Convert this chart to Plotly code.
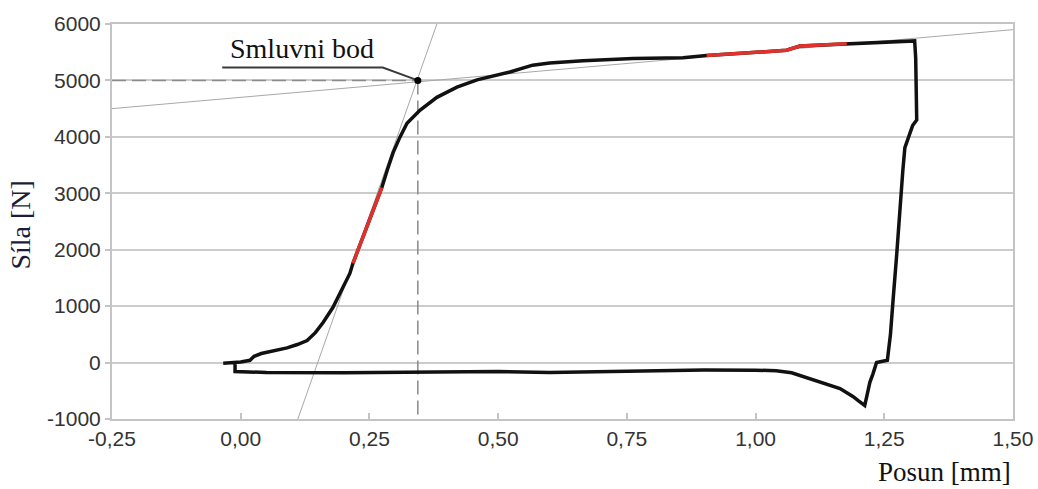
import plotly.graph_objects as go

# Force–displacement loop (loading, unloading, return)
posun = [
    -0.034, -0.011, 0.0, 0.018, 0.026, 0.04, 0.063, 0.09, 0.11, 0.129, 0.145, 0.16,
    0.179, 0.199, 0.212, 0.218,
    0.232, 0.246, 0.26, 0.274,
    0.285, 0.296, 0.309, 0.323, 0.348, 0.381, 0.42, 0.459, 0.523, 0.567, 0.60,
    0.665, 0.762, 0.859, 0.905,
    0.95, 0.989, 1.03, 1.06, 1.086, 1.13, 1.177,
    1.24, 1.305, 1.309, 1.311, 1.313, 1.313, 1.305, 1.30, 1.29, 1.286, 1.28, 1.274,
    1.267, 1.262, 1.256, 1.245, 1.235, 1.228, 1.222, 1.216, 1.212, 1.20, 1.189,
    1.164, 1.12, 1.07, 1.04, 1.0, 0.9, 0.8, 0.7, 0.6, 0.5, 0.35, 0.2, 0.05,
    -0.011, -0.011,
]
sila = [
    -10, 0, 10, 40, 110, 160, 210, 260, 320, 390, 530, 710,
    975, 1330, 1580, 1760,
    2100, 2450, 2780, 3100,
    3420, 3720, 3990, 4240, 4470, 4700, 4880, 5010, 5150, 5270, 5310,
    5350, 5390, 5400, 5440,
    5470, 5500, 5520, 5535, 5610, 5630, 5650,
    5680, 5710, 5700, 5400, 4800, 4300, 4200, 4060, 3810, 3400, 2600, 1900,
    1100, 500, 40, 20, 0, -200, -350, -600, -760, -680, -600,
    -460, -330, -180, -145, -135, -130, -140, -165, -175, -160, -175, -180, -175,
    -160, -20,
]

# Index ranges of the fitted (highlighted) parts of the curve
red_ranges = [(15, 19), (34, 41)]

# Construction lines
elastic_x = [0.111, 0.381]
elastic_y = [-1000, 6000]
plastic_x = [-0.25, 1.5]
plastic_y = [4500, 5900]

# Offset (conventional) point
bod_x = 0.344
bod_y = 5000

# Leader from the label to the point
leader_x = [-0.036, 0.276, bod_x]
leader_y = [5230, 5230, bod_y]

x_ticks = [-0.25, 0.0, 0.25, 0.5, 0.75, 1.0, 1.25, 1.5]
x_ticktext = ["-0,25", "0,00", "0,25", "0,50", "0,75", "1,00", "1,25", "1,50"]
y_ticks = [-1000, 0, 1000, 2000, 3000, 4000, 5000, 6000]
y_ticktext = ["-1000", "0", "1000", "2000", "3000", "4000", "5000", "6000"]

fig = go.Figure()

thin = dict(color="#a8a8a8", width=1)
fig.add_trace(go.Scatter(x=elastic_x, y=elastic_y, mode="lines", line=thin))
fig.add_trace(go.Scatter(x=plastic_x, y=plastic_y, mode="lines", line=thin))

dash = dict(color="#8a8a8a", width=1.5, dash="14px,6px")
fig.add_trace(go.Scatter(x=[-0.25, bod_x], y=[bod_y, bod_y], mode="lines", line=dash))
fig.add_trace(go.Scatter(x=[bod_x, bod_x], y=[bod_y, -1000], mode="lines", line=dash))

fig.add_trace(go.Scatter(x=posun, y=sila, mode="lines",
                         line=dict(color="#111111", width=3.5)))
for a, b in red_ranges:
    fig.add_trace(go.Scatter(x=posun[a:b + 1], y=sila[a:b + 1], mode="lines",
                             line=dict(color="#e0322c", width=3.5)))

fig.add_trace(go.Scatter(x=leader_x, y=leader_y, mode="lines",
                         line=dict(color="#3a3a3a", width=2)))
fig.add_trace(go.Scatter(x=[bod_x], y=[bod_y], mode="markers",
                         marker=dict(color="#000000", size=7)))

serif = "Liberation Serif, Times New Roman, serif"
fig.add_annotation(x=0.119, y=5567, xref="x", yref="y", text="Smluvni bod",
                   showarrow=False, font=dict(family=serif, size=28, color="#111111"))
fig.add_annotation(x=1.0, y=-0.135, xref="paper", yref="paper", text="Posun [mm]",
                   xanchor="right", yanchor="middle", showarrow=False,
                   font=dict(family=serif, size=27, color="#111111"))
fig.add_annotation(x=-0.102, y=0.49, xref="paper", yref="paper", text="Síla [N]",
                   textangle=-90, xanchor="center", yanchor="middle", showarrow=False,
                   font=dict(family=serif, size=28, color="#1c1c3c"))

tickfont = dict(family="Liberation Sans, Arial, sans-serif", size=21, color="#333333")
fig.update_layout(
    width=1038, height=489,
    margin=dict(l=112, r=25, t=24, b=70, autoexpand=False),
    paper_bgcolor="white", plot_bgcolor="white",
    showlegend=False,
    xaxis=dict(range=[-0.25, 1.5], tickvals=x_ticks, ticktext=x_ticktext,
               automargin=False,
               showgrid=False, zeroline=False, showline=True, mirror=True,
               linecolor="#c4c4c4", linewidth=2, ticks="inside", ticklen=6,
               tickcolor="#c4c4c4", tickwidth=1.5, tickfont=tickfont),
    yaxis=dict(range=[-1000, 6000], tickvals=y_ticks, ticktext=y_ticktext,
               automargin=False,
               showgrid=True, gridcolor="#cccccc", gridwidth=2, zeroline=False,
               showline=True, mirror=True, linecolor="#c4c4c4", linewidth=2,
               ticks="outside", ticklen=5, tickcolor="#c4c4c4", tickwidth=1.5,
               tickfont=tickfont),
)

fig.write_html("out.html")
